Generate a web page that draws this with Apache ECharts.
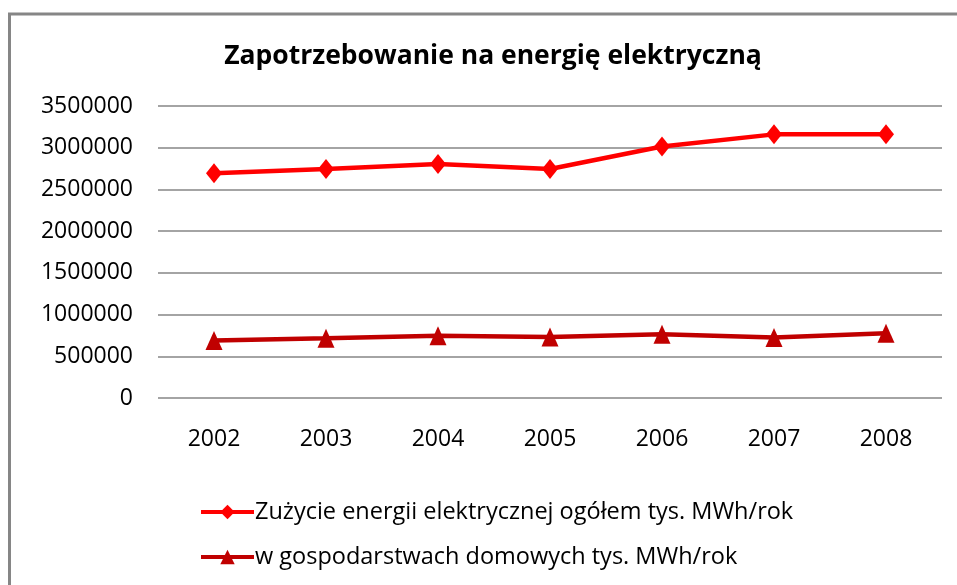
<!DOCTYPE html>
<html>
<head>
<meta charset="utf-8">
<script src="https://cdn.jsdelivr.net/npm/echarts@6/dist/echarts.min.js"></script>
<style>
  html, body { margin: 0; padding: 0; background: #fff; }
  #chart { width: 957px; height: 585px; }
</style>
</head>
<body>
<div id="chart"></div>
<script>
// lata
const years = ['2002', '2003', '2004', '2005', '2006', '2007', '2008'];

// zużycie ogółem (tys. MWh/rok)
const totalUse = [2695000, 2745000, 2805000, 2745000, 3015000, 3160000, 3160000];

// gospodarstwa domowe (tys. MWh/rok)
const householdUse = [690000, 715000, 745000, 730000, 765000, 725000, 775000];

const yMin = 0, yMax = 3500000, yStep = 500000;

const FONT = 'Open Sans';

var myChart = echarts.init(document.getElementById('chart'));
myChart.setOption({
  backgroundColor: '#fff',
  animation: false,
  title: {
    text: 'Zapotrzebowanie na energię elektryczną',
    left: 488,
    textAlign: 'center',
    top: 38,
    textStyle: { fontFamily: FONT, fontSize: 26.5, fontWeight: 'bold', color: '#000' }
  },
  graphic: [{
    type: 'polyline',
    shape: { points: [[9.5, 600], [9.5, 14], [970, 14]] },
    style: { stroke: '#868686', lineWidth: 3, fill: null },
    silent: true
  }],
  legend: {
    orient: 'vertical',
    left: 194,
    top: 495,
    itemWidth: 53,
    itemHeight: 18,
    itemGap: 21,
    lineStyle: { width: 4 },
    textStyle: { fontFamily: FONT, fontSize: 23.5, color: '#000', padding: [0, 0, 0, -4] },
    data: ['Zużycie energii elektrycznej ogółem tys. MWh/rok', 'w gospodarstwach domowych tys. MWh/rok']
  },
  grid: { left: 158, right: 15, top: 106, bottom: 187 },
  xAxis: {
    type: 'category',
    data: years,
    boundaryGap: true,
    axisLine: { show: false },
    axisTick: { show: false },
    axisLabel: { fontFamily: FONT, fontSize: 23, color: '#000', margin: 30 }
  },
  yAxis: {
    type: 'value',
    min: yMin,
    max: yMax,
    interval: yStep,
    axisLine: { show: false },
    axisTick: { show: false },
    axisLabel: { fontFamily: FONT, fontSize: 23, color: '#000', margin: 25, formatter: v => String(v) },
    splitLine: { lineStyle: { color: '#868686', width: 1.5 } }
  },
  series: [
    {
      name: 'Zużycie energii elektrycznej ogółem tys. MWh/rok',
      type: 'line',
      data: totalUse,
      color: '#ff0000',
      symbol: 'diamond',
      symbolSize: [16, 20],
      lineStyle: { width: 4.5, color: '#ff0000' },
      itemStyle: { color: '#ff0000' }
    },
    {
      name: 'w gospodarstwach domowych tys. MWh/rok',
      type: 'line',
      data: householdUse,
      color: '#c00000',
      symbol: 'triangle',
      symbolSize: [17, 19],
      lineStyle: { width: 4.5, color: '#c00000' },
      itemStyle: { color: '#c00000' }
    }
  ]
});
</script>
</body>
</html>
